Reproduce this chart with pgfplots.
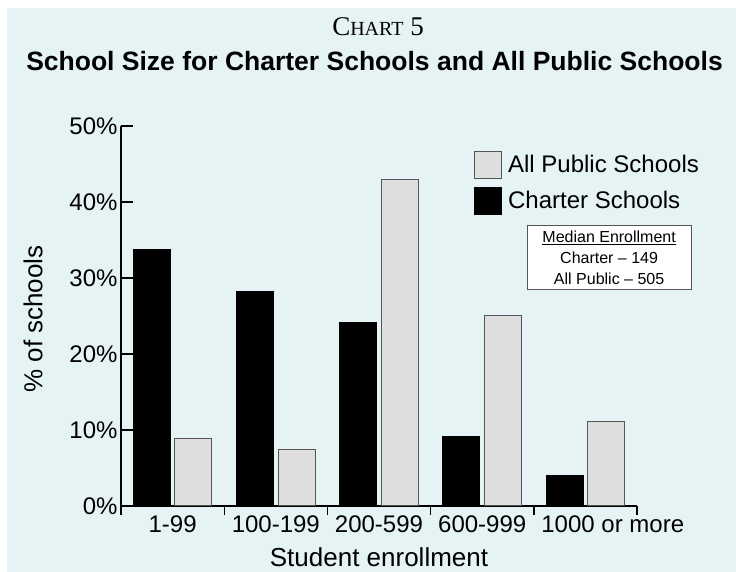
\documentclass[border=0pt]{standalone}
\usepackage{fontspec}
\setmainfont{Liberation Sans}
\newfontfamily\timesfont{Liberation Serif}
\usepackage{pgfplots}
\usepackage{pgfplotstable}
\pgfplotsset{compat=1.18}

\definecolor{bgcyan}{RGB}{229,243,244}
\definecolor{pubgray}{RGB}{222,222,222}
\definecolor{edgegray}{RGB}{85,85,85}

% share of schools (%) by enrollment group
\pgfplotstableread{
x    charter public
0.5  33.7    8.9
1.5  28.2    7.4
2.5  24.1    43.0
3.5  9.2     25.0
4.5  4.0     11.1
}\enrollment

\begin{document}
\begin{tikzpicture}[x=1pt,y=1pt]
\fill[white] (0,0) rectangle (736,572);
\fill[bgcyan] (7,0) rectangle (736,564);
\node[font=\timesfont\fontsize{27}{30}\selectfont, anchor=base] at (378,536)
  {C{\fontsize{20}{24}\selectfont HART} 5};
\node[font=\bfseries\fontsize{26.5}{30}\selectfont, anchor=base] at (374.5,501)
  {School Size for Charter Schools and All Public Schools};
\begin{axis}[
    at={(121pt,66pt)}, anchor=south west,
    scale only axis, width=516pt, height=380pt,
    xmin=0, xmax=5, ymin=0, ymax=50,
    clip=false,
    axis lines*=left,
    axis line style={line width=1.4pt, black},
    tick align=inside,
    tick style={black, line width=1.4pt},
    major tick length=12pt,
    xtick style={/pgfplots/major tick length=9pt},
    ytick={0,10,...,50},
    yticklabels={0\%,10\%,20\%,30\%,40\%,50\%},
    xtick={0,1,2,3,4,5},
    x tick label as interval=true,
    xticklabels={1-99,100-199,200-599,600-999,\makebox[0pt][l]{\hspace*{-44pt}1000 or more}},
    ticklabel style={font=\fontsize{24}{26}\selectfont},
    xticklabel style={yshift=6pt},
    ylabel={\% of schools},
    ylabel style={font=\fontsize{26}{30}\selectfont, at={(axis description cs:-0.1705,0.492)}, anchor=center},
    xlabel={Student enrollment},
    xlabel style={font=\fontsize{26}{30}\selectfont, at={(axis description cs:0.5,-0.158)}, anchor=base},
    ybar=4.5pt, bar width=37pt,
    reverse legend,
    legend cell align=left,
    legend image code/.code={\draw[#1, line width=1pt] (0pt,-13.5pt) rectangle (27pt,13.5pt);},
    legend style={draw=none, fill=none, inner sep=0pt,
        at={(rel axis cs:0.684,0.935)}, anchor=north west,
        font=\fontsize{24}{28}\selectfont, row sep=8pt,
        /tikz/every odd column/.append style={column sep=4pt}},
]
\addplot[fill=black, draw=black, line width=1pt] table[x=x, y=charter] {\enrollment};
\addlegendentry{Charter Schools}
\addplot[fill=pubgray, draw=edgegray, line width=1pt] table[x=x, y=public] {\enrollment};
\addlegendentry{All Public Schools}
\node[draw=edgegray, fill=white, line width=1pt, minimum width=164pt, minimum height=64pt,
      inner sep=0pt, align=center, font=\fontsize{16}{21}\selectfont]
  at (rel axis cs:0.946,0.653) {\underline{Median Enrollment}\\Charter – 149\\All Public – 505};
\end{axis}
\pgfresetboundingbox
\path[use as bounding box] (0,0) rectangle (736,572);
\end{tikzpicture}
\end{document}
